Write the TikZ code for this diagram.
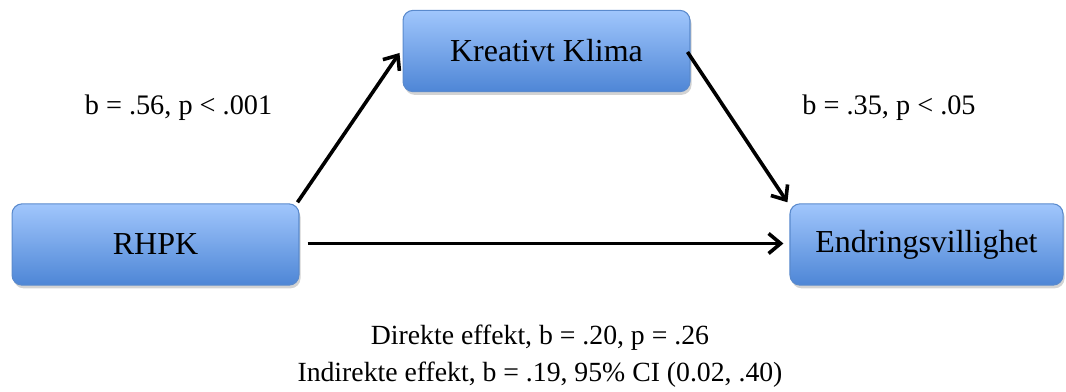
\documentclass[tikz,border=0pt]{standalone}
\usepackage{fontspec}
\setmainfont{Liberation Serif}
\usepackage{tikz}
\usetikzlibrary{arrows.meta,calc,positioning,shadows}
\definecolor{boxtop}{RGB}{160,198,252}
\definecolor{boxbot}{RGB}{78,134,214}
\definecolor{boxline}{RGB}{90,138,205}

\begin{document}
\begin{tikzpicture}[x=0.375pt,y=-0.375pt,
    var/.style={draw=boxline, thin, rounded corners=3.8pt, top color=boxtop, bottom color=boxbot,
        minimum height=30.5pt, inner sep=0pt, font=\fontsize{12}{14}\selectfont,
        drop shadow={opacity=0.35, shadow xshift=0.6pt, shadow yshift=-1.2pt}},
    path/.style={line width=1.35pt, -{Straight Barb[length=4.5pt,width=7.5pt,line width=1.35pt]}},
    coef/.style={font=\fontsize{10.6}{13}\selectfont}]
        \useasboundingbox (0,0) rectangle (1066,392);
        % Draw the variables
        \node[var, minimum width=107.6pt] (rhpk) at (155.5,244.5) {RHPK};
        \node[var, minimum width=107.6pt] (klima) at (546.5,51) {Kreativt Klima};
        \node[var, minimum width=102.4pt] (endr) at (926.5,244.5) {Endringsvillighet};
        % paths
        \draw[path] ($(rhpk.north east)+(-2,-1)$) -- ($(klima.west)+(-3,2)$);
        \draw[path] ($(klima.east)+(-3,1)$) -- ($(endr.north west)+(-2,-1)$);
        \draw[path] ($(rhpk.east)+(8,-1)$) -- ($(endr.west)+(-6,-1)$);
        % coefficients
        \node[coef] (ca) at (178.5,108) {b = .56, p < .001};
        \node[coef] (cb) at (889,108) {b = .35, p < .05};
        \node[coef, font=\fontsize{10.4}{13}\selectfont, align=center, text depth=0pt] (cc) at (540,353)
            {Direkte effekt, b = .20, p = .26\\[0.8pt] Indirekte effekt, b = .19, 95\% CI (0.02, .40)};
      \end{tikzpicture}
\end{document}
